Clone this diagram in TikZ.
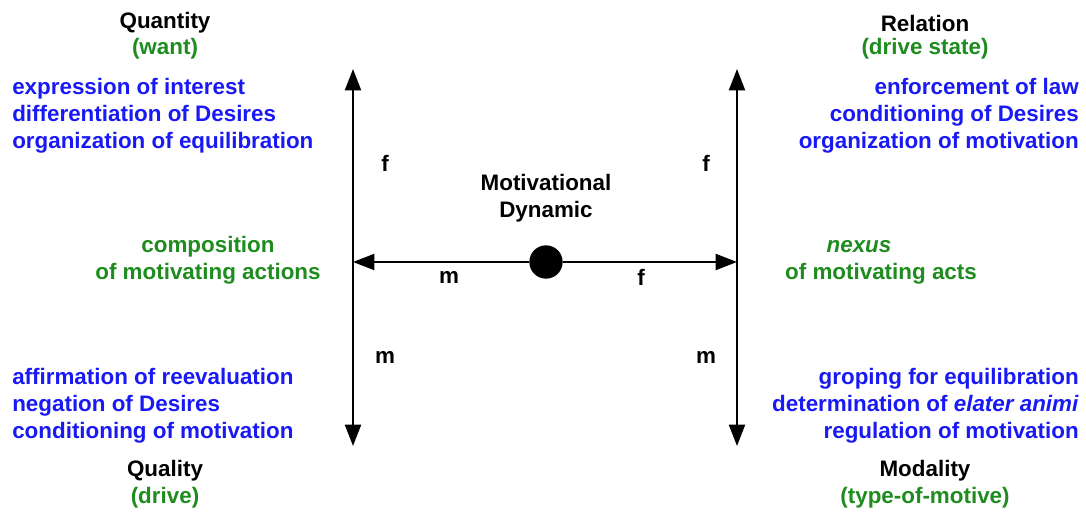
\documentclass[tikz,border=0pt]{standalone}
\usepackage{fontspec}
\setmainfont{Liberation Sans}
\usetikzlibrary{arrows.meta}
\definecolor{catblue}{RGB}{25,25,245}
\definecolor{catgreen}{RGB}{30,140,30}

\begin{document}
\begin{tikzpicture}[x=0.75pt,y=-0.75pt,
  txt/.style={inner sep=0pt,font=\fontsize{16.8}{20.25}\selectfont\bfseries},
  head/.style={txt,align=center},
  sub/.style={txt,text=catgreen,align=center},
  lst/.style={txt,text=catblue},
  lbl/.style={txt},
  axis/.style={line width=1.5pt,{Triangle[length=16pt,width=12pt]}-{Triangle[length=16pt,width=12pt]}},
  half/.style={line width=1.5pt,-{Triangle[length=16pt,width=12pt]}}]
\useasboundingbox (0,0) rectangle (1086,513);
% axes
\coordinate (lt) at (353,69);
\coordinate (lb) at (353,446);
\coordinate (rt) at (737,69);
\coordinate (rb) at (737,446);
\coordinate (lm) at (353,262);
\coordinate (rm) at (737,262);
\draw[axis] (lb) -- (lt);
\draw[axis] (rb) -- (rt);
\node[circle,fill=black,minimum size=25pt,inner sep=0pt] (dot) at (546,262) {};
\draw[half] (dot) -- (lm);
\draw[half] (dot) -- (rm);
\node[head] (dyn) at (546,198) {Motivational\\Dynamic};
% f and m
\node[lbl] (f1) at (385,163) {f};
\node[lbl] (f2) at (706,163) {f};
\node[lbl] (m1) at (385,357) {m};
\node[lbl] (m2) at (706,357) {m};
\node[lbl] (m3) at (449,277) {m};
\node[lbl] (f3) at (641,277) {f};
% quantity
\node[head] (qnt) at (165,23) {Quantity};
\node[sub] (qnts) at (165,49) {(want)};
\node[lst,align=left,anchor=west] (qntl) at (12,116) {expression of interest\\differentiation of Desires\\organization of equilibration};
% relation
\node[head] (rel) at (925,23) {Relation};
\node[sub] (rels) at (925,49) {(drive state)};
\node[lst,align=right,anchor=east] (rell) at (1079,116) {enforcement of law\\conditioning of Desires\\organization of motivation};
% middle
\node[sub] (comp) at (208,260) {composition\\of motivating actions};
\node[sub] (nex) at (859,247) {\itshape nexus};
\node[sub] (nexs) at (881,274) {of motivating acts};
% quality
\node[lst,align=left,anchor=west] (qall) at (12,406) {affirmation of reevaluation\\negation of Desires\\conditioning of motivation};
\node[head] (qal) at (165,471) {Quality};
\node[sub] (qals) at (165,498) {(drive)};
% modality
\node[lst,align=right,anchor=east] (modl) at (1079,406) {groping for equilibration\\determination of \textit{elater animi}\\regulation of motivation};
\node[head] (mod) at (925,471) {Modality};
\node[sub] (mods) at (925,498) {(type-of-motive)};
\end{tikzpicture}
\end{document}
